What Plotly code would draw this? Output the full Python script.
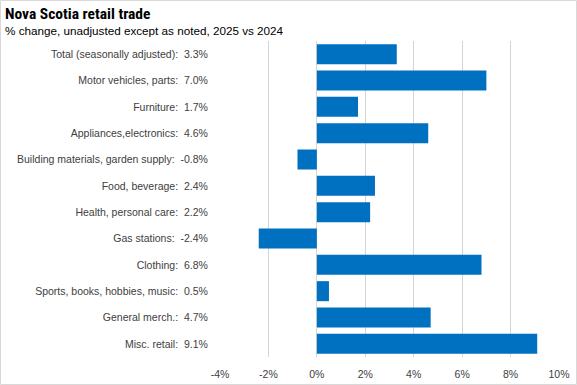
import plotly.graph_objects as go

categories = [
    "Total (seasonally adjusted)", "Motor vehicles, parts", "Furniture",
    "Appliances,electronics", "Building materials, garden supply",
    "Food, beverage", "Health, personal care", "Gas stations", "Clothing",
    "Sports, books, hobbies, music", "General merch.", "Misc. retail",
]
values = [3.3, 7.0, 1.7, 4.6, -0.8, 2.4, 2.2, -2.4, 6.8, 0.5, 4.7, 9.1]
tick_vals = [-4, -2, 0, 2, 4, 6, 8, 10]
tick_text = ["-4%", "-2%", "0%", "2%", "4%", "6%", "8%", "10%"]

labels = [f"{c}:  {v:.1f}%" for c, v in zip(categories, values)]

W, H = 577, 385
L, R, T, B = 220, 18, 41, 28

fig = go.Figure(go.Bar(
    x=values, y=labels, orientation="h",
    marker=dict(color="#0070C0", line=dict(width=0)),
    width=0.76, hoverinfo="skip",
))

pw = W - L - R
ph = H - T - B
fig.add_shape(type="rect", xref="paper", yref="paper",
              x0=(0.5 - L) / pw, x1=(W - 0.5 - L) / pw,
              y0=-(B - 0.5) / ph, y1=1 + (T - 0.5) / ph,
              line=dict(color="#d9d9d9", width=1), fillcolor="rgba(0,0,0,0)",
              layer="above")

fig.update_layout(
    width=W, height=H,
    margin=dict(l=L, r=R, t=T, b=B, pad=0, autoexpand=False),
    paper_bgcolor="white", plot_bgcolor="white",
    font=dict(family="Liberation Sans, Arial, sans-serif", size=10.5, color="#404040"),
    showlegend=False,
    xaxis=dict(range=[-4, 10], tickvals=tick_vals, ticktext=tick_text,
               showgrid=True, gridcolor="#d4d4d4", gridwidth=1,
               zeroline=True, zerolinecolor="#d4d4d4", zerolinewidth=1,
               tickfont=dict(size=10.5, color="#404040"), ticks="outside", ticklen=7,
               tickcolor="rgba(0,0,0,0)", automargin=False,
               showline=False, fixedrange=True),
    yaxis=dict(autorange="reversed", showgrid=False, zeroline=False,
               ticks="outside", ticklen=9, tickcolor="rgba(0,0,0,0)", automargin=False,
               tickfont=dict(size=10.5, color="#404040"), showline=False, fixedrange=True),
    annotations=[
        dict(text="<b>Nova Scotia retail trade</b>", xref="paper", yref="paper",
             x=(3 - L) / pw, y=1 + (T - 3) / ph, xanchor="left", yanchor="top",
             showarrow=False, font=dict(size=15.5, color="#000000",
                                         family="Liberation Sans Narrow, Roboto Condensed, Liberation Sans, sans-serif")),
        dict(text="% change, unadjusted except as noted, 2025 vs 2024", xref="paper", yref="paper",
             x=(3 - L) / pw, y=1 + (T - 22) / ph, xanchor="left", yanchor="top",
             showarrow=False, font=dict(size=11.7, color="#000000",
                                         family="Liberation Sans, sans-serif")),
    ],
)

fig.write_html("out.html", config={"displayModeBar": False},
               post_script="document.body.style.margin='0';document.body.style.padding='0';")
